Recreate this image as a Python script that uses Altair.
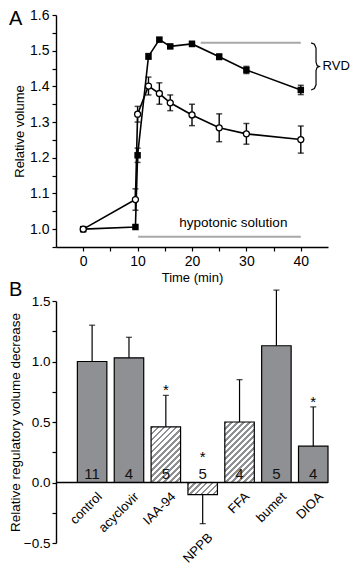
import altair as alt
import pandas as pd

FONT = "Liberation Sans, Arial, Helvetica, sans-serif"

# ---------------- Panel A data ----------------
time_min = [0, 9.6, 10, 12, 14, 16, 20, 25, 30, 40]
vol_filled = [1.000, 1.006, 1.207, 1.484, 1.531, 1.512, 1.519, 1.483, 1.446, 1.390]
err_filled = [0.0, 0.0, 0.020, 0.008, 0.005, 0.005, 0.007, 0.008, 0.010, 0.013]
vol_open = [1.000, 1.083, 1.322, 1.401, 1.380, 1.354, 1.320, 1.284, 1.267, 1.251]
err_open = [0.0, 0.030, 0.022, 0.025, 0.030, 0.022, 0.030, 0.039, 0.029, 0.038]

rvd_line_t = [21.6, 40.0]
rvd_line_v = 1.522
hypo_line_t = [10.1, 40.0]
hypo_line_v = 0.979
hypo_text = "hypotonic solution"
hypo_text_pos = (27.6, 1.018)
rvd_text = "RVD"
rvd_text_pos = (44.0, 1.457)
# brace shape: (time, fraction from top(0) to bottom(1))
brace_t = [41.9, 42.5, 42.8, 42.8, 43.0, 43.4, 43.0, 42.8, 42.8, 42.5, 41.9]
brace_f = [0.0, 0.03, 0.11, 0.41, 0.48, 0.5, 0.52, 0.59, 0.89, 0.97, 1.0]
brace_top, brace_bottom = 1.522, 1.390

# ---------------- Panel B data ----------------
categories = ["control", "acyclovir", "IAA-94", "NPPB", "FFA", "bumet", "DIOA"]
rvd_values = [1.00, 1.03, 0.46, -0.10, 0.50, 1.13, 0.30]
rvd_errors = [0.30, 0.17, 0.26, 0.24, 0.35, 0.46, 0.325]
n_cells = ["11", "4", "5", "5", "4", "5", "4"]
hatched = [False, False, True, True, True, False, False]
star_y = [None, None, 0.80, 0.24, None, None, 0.70]

panel_letters = ["A", "B"]

# ---------------- layout / style ----------------
WA, HA = 272, 232
WB, HB = 272, 242
BAR_GRAY = "#8e9093"
LINE_GRAY = "#a8a8a8"

# ===== Panel A =====
rows = []
for s, vals, errs in [("filled", vol_filled, err_filled), ("open", vol_open, err_open)]:
    for t, v, e in zip(time_min, vals, errs):
        rows.append({"series": s, "t": t, "v": v, "e": e})
dfa = pd.DataFrame(rows)

yA_scale = alt.Scale(domain=[0.95, 1.6], nice=False, zero=False)
xA = alt.X("t:Q", scale=alt.Scale(domain=[-5, 45], nice=False, zero=False),
           axis=alt.Axis(values=[0, 5, 10, 15, 20, 25, 30, 35, 40], labelOverlap=False,
                         labelExpr="datum.value % 10 == 0 ? datum.label : ''",
                         labelFontSize=14, titlePadding=3),
           title="Time (min)")
yA_vals = [round(0.95 + 0.05 * i, 2) for i in range(14)]
yA = alt.Y("v:Q", scale=yA_scale,
           axis=alt.Axis(values=yA_vals, labelOverlap=False,
                         labelExpr="round(datum.value*100) % 10 == 0 ? format(datum.value, '.1f') : ''",
                         labelFontSize=14, titlePadding=3, labelPadding=3),
           title="Relative volume")

gray_df = pd.DataFrame({"t": [rvd_line_t[0], hypo_line_t[0]], "t2": [rvd_line_t[1], hypo_line_t[1]],
                        "v": [rvd_line_v, hypo_line_v]})
gray_lines = alt.Chart(gray_df).mark_rule(color=LINE_GRAY, strokeWidth=2).encode(
    x=xA, x2="t2:Q", y=yA)

brace_df = pd.DataFrame({"i": list(range(len(brace_t))), "t": brace_t,
                         "v": [brace_top - f * (brace_top - brace_bottom) for f in brace_f]})
brace = alt.Chart(brace_df).mark_line(color="black", strokeWidth=1.2, interpolate="linear").encode(
    x=xA, y=yA, order="i:Q")

err_src = dfa[dfa["e"] > 0]
err_df = pd.DataFrame({"t": err_src["t"], "v": err_src["v"] - err_src["e"], "v2": err_src["v"] + err_src["e"]})
err_rules = alt.Chart(err_df).mark_rule(color="black", strokeWidth=1.4).encode(
    x=xA, y=yA, y2="v2:Q")
cap_df = pd.DataFrame({"t": list(err_df["t"]) * 2, "v": list(err_df["v"]) + list(err_df["v2"])})
caps = alt.Chart(cap_df).mark_tick(orient="horizontal", size=6, thickness=1.5, color="black").encode(
    x=xA, y=yA)

lines = alt.Chart(dfa).mark_line(color="black", strokeWidth=1.6).encode(x=xA, y=yA, detail="series:N")
pts_filled = alt.Chart(dfa[dfa.series == "filled"]).mark_point(
    shape="square", filled=True, color="black", size=42, opacity=1).encode(x=xA, y=yA)
pts_open = alt.Chart(dfa[dfa.series == "open"]).mark_point(
    shape="circle", filled=True, fill="white", stroke="black", strokeWidth=1.3, size=36, opacity=1).encode(x=xA, y=yA)

txt_df = pd.DataFrame({"t": [hypo_text_pos[0]], "v": [hypo_text_pos[1]], "s": [hypo_text]})
hypo_txt = alt.Chart(txt_df).mark_text(fontSize=13.5, align="center", baseline="middle", color="black").encode(
    x=xA, y=yA, text="s:N")
rvd_df = pd.DataFrame({"t": [rvd_text_pos[0]], "v": [rvd_text_pos[1]], "s": [rvd_text]})
rvd_txt = alt.Chart(rvd_df).mark_text(fontSize=13, align="left", baseline="middle", color="black").encode(
    x=xA, y=yA, text="s:N")

letterA = alt.Chart(pd.DataFrame({"s": [panel_letters[0]]})).mark_text(
    fontSize=20, align="left", baseline="alphabetic", color="black").encode(
    x=alt.value(-47), y=alt.value(10), text="s:N")

panelA = alt.layer(gray_lines, brace, err_rules, caps, lines, pts_filled, pts_open,
                   hypo_txt, rvd_txt, letterA).properties(width=WA, height=HA)

# ===== Panel B =====
end_vals = [v + (e if v >= 0 else -e) for v, e in zip(rvd_values, rvd_errors)]
dfb = pd.DataFrame({"cat": categories, "v": rvd_values, "end": end_vals, "n": n_cells,
                    "hatched": hatched})

nCat = len(categories)
p_in, p_out = 0.2, 0.29
step = WB / (nCat - p_in + 2 * p_out)
bw = step * (1 - p_in)
px_per_unit = HB / 2.0

xB = alt.X("cat:N", sort=categories,
           scale=alt.Scale(paddingInner=p_in, paddingOuter=p_out, align=1), axis=None)
yB_scale = alt.Scale(domain=[-0.5, 1.5], nice=False)
yB = alt.Y("v:Q", scale=yB_scale,
           axis=alt.Axis(values=[-0.5, -0.25, 0, 0.25, 0.5, 0.75, 1.0, 1.25, 1.5], labelOverlap=False,
                         labelExpr="abs(round(datum.value*4)) % 2 == 0 ? format(datum.value, '.1f') : ''",
                         labelFontSize=13.5, titlePadding=1, labelPadding=2, titleFontSize=13.5),
           title="Relative regulatory volume decrease")

solid = alt.Chart(dfb[~dfb.hatched]).mark_bar(fill=BAR_GRAY, stroke="black", strokeWidth=1.2).encode(x=xB, y=yB)


def hatch_gradient(h, w, period=6.0, frac=0.45, c1=BAR_GRAY, c2="white"):
    s = (w + h) / (w * w + h * h)
    n = max(1, int(round((w + h) / period)))
    stops = []
    for k in range(n):
        a = k / n
        b = (k + frac) / n
        c = (k + 1) / n
        stops += [alt.GradientStop(offset=a, color=c1), alt.GradientStop(offset=b, color=c1),
                  alt.GradientStop(offset=b, color=c2), alt.GradientStop(offset=c, color=c2)]
    return alt.LinearGradient(gradient="linear", stops=stops, x1=0, y1=0, x2=w * s, y2=h * s)


hatch_layers = []
for cat, v, h in zip(categories, rvd_values, hatched):
    if h:
        hpx = abs(v) * px_per_unit
        hatch_layers.append(
            alt.Chart(dfb[dfb.cat == cat]).mark_bar(
                fill=hatch_gradient(hpx, bw), stroke="black", strokeWidth=1.2).encode(x=xB, y=yB))

zero_line = alt.Chart(pd.DataFrame({"v": [0.0]})).mark_rule(color="black", strokeWidth=1.4).encode(y=yB)

errB = alt.Chart(dfb).mark_rule(color="black", strokeWidth=1.2).encode(x=xB, y=yB, y2="end:Q")
capB = alt.Chart(pd.DataFrame({"cat": categories, "v": end_vals})).mark_tick(
    orient="horizontal", size=6, thickness=1.3, color="black").encode(x=xB, y=yB)

n_txt = alt.Chart(pd.DataFrame({"cat": categories, "v": [0.025] * nCat, "n": n_cells})).mark_text(
    fontSize=15, baseline="alphabetic", color="#111").encode(x=xB, y=yB, text="n:N")
star_df = pd.DataFrame({"cat": categories, "v": star_y}).dropna()
stars = alt.Chart(star_df).mark_text(fontSize=15, baseline="alphabetic", dy=9, color="black").encode(
    x=xB, y=yB, text=alt.value("*"))
label_df = pd.DataFrame({"cat": categories, "v": [min(0.0, ev) for ev in end_vals]})
cat_txt = alt.Chart(label_df).mark_text(fontSize=13, angle=315, align="right", baseline="top", dy=8, dx=-3,
                                        color="black").encode(x=xB, y=yB, text="cat:N")

letterB = alt.Chart(pd.DataFrame({"s": [panel_letters[1]]})).mark_text(
    fontSize=20, align="left", baseline="alphabetic", color="black").encode(
    x=alt.value(-47), y=alt.value(-5), text="s:N")

panelB = alt.layer(solid, *hatch_layers, zero_line, errB, capB, n_txt, stars, cat_txt, letterB).properties(
    width=WB, height=HB)

chart = alt.vconcat(panelA, panelB, spacing=-4).configure(
    font=FONT, padding={"left": 0, "top": 0, "right": 0, "bottom": 0}
).configure_view(stroke=None).configure_axis(
    grid=False, domainColor="black", domainWidth=1.4, tickColor="black", tickWidth=1.2, tickSize=4,
    labelColor="black", labelFont=FONT, titleFont=FONT, titleColor="black", titleFontWeight="normal",
    titleFontSize=13, labelPadding=3
)

chart.save("out.html", embed_options={"renderer": "svg", "actions": False})
